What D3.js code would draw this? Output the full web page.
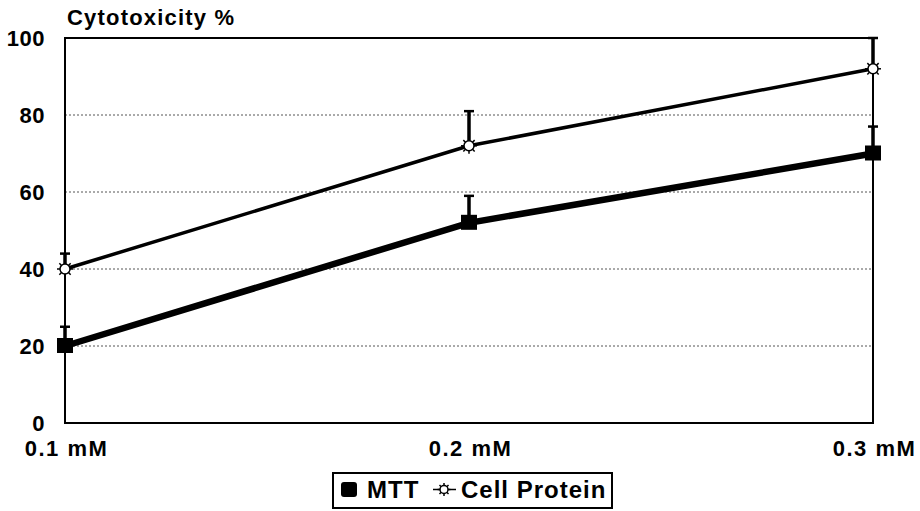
<!DOCTYPE html>
<html><head><meta charset="utf-8">
<script src="https://cdn.jsdelivr.net/npm/d3@7"></script>
<style>body{margin:0;background:#fff}svg{display:block}text{font-family:"Liberation Sans",Arial,sans-serif;font-weight:bold;fill:#000}</style>
</head><body>
<svg id="c" width="920" height="511"></svg>
<script>
const categories = ["0.1 mM", "0.2 mM", "0.3 mM"];
const mttValues = [20, 52, 70];
const mttErrors = [5, 7, 7];
const proteinValues = [40, 72, 92];
const proteinErrors = [4, 9, 8];
const yTicks = [0, 20, 40, 60, 80, 100];

const svg = d3.select("#c");
const L = 65, R = 873, T = 38, B = 423;
const x = d3.scalePoint().domain(categories).range([L, R]);
const y = d3.scaleLinear().domain([0, 100]).range([B, T]);

// gridlines
svg.append("g").selectAll("line").data(yTicks.filter(d => d > 0 && d < 100)).join("line")
  .attr("x1", L).attr("x2", R).attr("y1", d => y(d)).attr("y2", d => y(d))
  .attr("stroke", "#555").attr("stroke-width", 1).attr("stroke-dasharray", "2,2");

// frame
svg.append("rect").attr("x", L).attr("y", T).attr("width", R - L).attr("height", B - T)
  .attr("fill", "none").attr("stroke", "#000").attr("stroke-width", 2);

// y axis labels
const yAxis = d3.axisLeft(y).tickValues(yTicks).tickSize(0).tickPadding(20);
const ya = svg.append("g").attr("transform", `translate(${L},0)`).call(yAxis);
ya.select(".domain").remove();
ya.selectAll("text").style("font-size", "22px").style("font-family", "Liberation Sans, Arial").style("font-weight", "bold")
  .attr("dy", "0.36em").style("letter-spacing", "0.5px");

// x axis labels
const xAxis = d3.axisBottom(x).tickSize(0).tickPadding(17);
const xa = svg.append("g").attr("transform", `translate(0,${B})`).call(xAxis);
xa.select(".domain").remove();
xa.selectAll("text").style("font-size", "22px").style("font-family", "Liberation Sans, Arial").style("font-weight", "bold")
  .style("letter-spacing", "1.5px").attr("dx", "1px");

// title
svg.append("text").attr("x", 67).attr("y", 25).style("font-size", "22px").style("letter-spacing", "1.2px").text("Cytotoxicity %");

const series = [
  {vals: proteinValues, errs: proteinErrors, w: 3.5, type: "star"},
  {vals: mttValues, errs: mttErrors, w: 6.5, type: "square"}
];

function drawStar(g, cx, cy, s) {
  const r = s, rr = s * 1.6;
  const gg = g.append("g").attr("transform", `translate(${cx},${cy})`);
  for (let i = 0; i < 8; i++) {
    const a = i * Math.PI / 4;
    gg.append("line").attr("x1", Math.cos(a) * r).attr("y1", Math.sin(a) * r)
      .attr("x2", Math.cos(a) * rr).attr("y2", Math.sin(a) * rr)
      .attr("stroke", "#000").attr("stroke-width", 1.5);
  }
  gg.append("circle").attr("r", r).attr("fill", "#fff").attr("stroke", "#000").attr("stroke-width", 1.5);
}

series.forEach(s => {
  const g = svg.append("g");
  s.vals.forEach((v, i) => {
    const cx = x(categories[i]);
    g.append("line").attr("x1", cx).attr("x2", cx).attr("y1", y(v)).attr("y2", y(v + s.errs[i]))
      .attr("stroke", "#000").attr("stroke-width", 3.5);
    g.append("line").attr("x1", cx - 5).attr("x2", cx + 5).attr("y1", y(v + s.errs[i])).attr("y2", y(v + s.errs[i]))
      .attr("stroke", "#000").attr("stroke-width", 2.5);
  });
  const line = d3.line().x((d, i) => x(categories[i])).y(d => y(d));
  g.append("path").attr("d", line(s.vals)).attr("fill", "none").attr("stroke", "#000").attr("stroke-width", s.w);
  s.vals.forEach((v, i) => {
    const cx = x(categories[i]), cy = y(v);
    if (s.type === "square") {
      g.append("rect").attr("x", cx - 8).attr("y", cy - 8).attr("width", 16).attr("height", 15).attr("fill", "#000");
    } else {
      drawStar(g, cx, cy, 5);
    }
  });
});

// legend
const lg = svg.append("g");
lg.append("rect").attr("x", 333).attr("y", 473).attr("width", 279).attr("height", 35)
  .attr("fill", "#fff").attr("stroke", "#000").attr("stroke-width", 2);
lg.append("rect").attr("x", 341).attr("y", 482).attr("width", 16).attr("height", 15).attr("rx", 3).attr("fill", "#000");
lg.append("text").attr("x", 367).attr("y", 498).style("font-size", "24px").style("letter-spacing", "1px").text("MTT");
lg.append("line").attr("x1", 433).attr("x2", 456).attr("y1", 489.5).attr("y2", 489.5).attr("stroke", "#000").attr("stroke-width", 1.5);
drawStar(lg, 444, 489.5, 4);
lg.append("text").attr("x", 461).attr("y", 498).style("font-size", "24px").style("letter-spacing", "1px").text("Cell Protein");
</script>
</body></html>
